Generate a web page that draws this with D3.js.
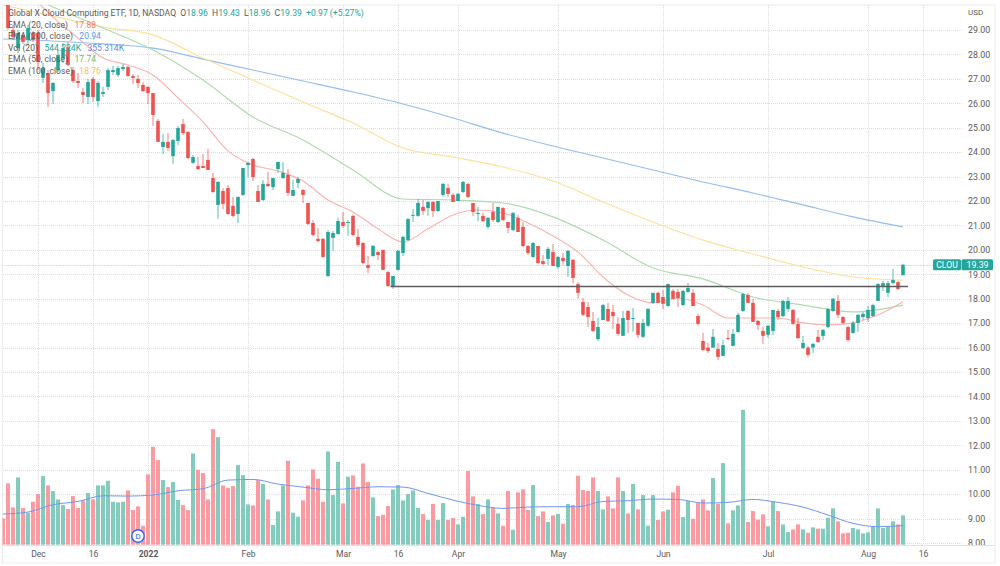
<!DOCTYPE html>
<html>
<head>
<meta charset="utf-8">
<title>CLOU daily</title>
<script src="https://cdn.jsdelivr.net/npm/d3@7"></script>
<style>
  html, body { margin: 0; padding: 0; background: #fff; }
  svg { display: block; }
  text { font-family: Roboto, "Liberation Sans", Arial, sans-serif; font-size: 8.6px; fill: #5a5a5a; }
</style>
</head>
<body>
<svg id="chart" width="1000" height="566"></svg>
<script>
// Daily prices, first session to last
const opens = [31.40,30.43,29.00,28.26,28.80,28.59,28.88,28.88,27.04,27.24,
  26.50,27.36,27.85,28.30,27.36,26.91,26.46,26.26,27.00,26.09,
  26.38,26.67,27.28,27.16,27.40,27.49,27.12,27.00,26.75,26.67,
  26.42,25.28,24.21,24.42,23.84,24.46,25.15,24.82,23.56,23.43,
  23.43,23.68,22.94,21.84,22.41,22.53,21.80,21.47,22.25,23.47,
  23.72,22.41,22.04,22.70,22.57,23.31,22.94,23.07,22.21,22.74,
  22.45,21.92,21.10,20.45,20.45,18.93,20.49,20.65,21.14,21.10,
  21.39,20.53,20.28,19.38,19.75,19.91,20.00,19.09,18.52,19.18,
  19.87,20.40,21.39,21.39,21.76,21.71,21.96,21.59,22.25,22.53,
  22.25,22.00,22.37,22.70,21.92,21.47,21.39,20.94,21.55,21.14,
  21.71,21.14,20.81,21.31,20.94,20.16,19.71,20.16,19.54,19.63,
  19.91,19.30,19.67,19.34,19.59,18.60,17.87,17.66,17.09,16.35,
  17.13,17.58,17.46,16.97,16.48,17.50,17.17,17.01,16.44,16.89,
  17.83,18.24,18.07,17.70,18.32,18.28,17.74,18.28,18.24,17.29,
  16.27,16.00,16.00,15.94,15.66,16.39,16.07,16.64,17.50,18.15,
  17.83,17.09,16.68,16.52,16.68,17.50,17.29,17.58,17.54,16.97,
  15.98,16.00,16.00,16.44,16.48,16.84,17.50,17.91,17.25,16.84,
  16.60,17.01,17.25,17.21,17.29,17.91,18.52,18.24,18.64,18.68,18.96];
const highs = [31.60,30.55,29.21,29.00,28.88,29.21,28.96,29.00,27.65,27.36,
  26.87,28.18,28.47,28.51,27.49,27.24,26.63,27.00,27.08,26.91,
  26.67,27.44,27.53,27.53,27.61,27.53,27.20,27.16,26.87,26.71,
  26.42,25.36,24.74,24.78,24.54,25.07,25.36,24.87,23.88,23.80,
  23.92,24.13,23.15,22.82,22.53,22.65,22.17,22.17,23.35,23.60,
  23.76,22.65,22.86,23.19,22.94,23.60,23.60,23.31,22.86,22.98,
  22.49,21.92,21.22,20.90,20.49,20.81,20.77,21.31,21.55,21.22,
  21.43,20.86,20.32,19.75,20.20,19.96,20.00,19.14,18.93,20.00,
  20.57,21.31,21.67,22.08,22.04,22.00,22.00,22.00,22.74,22.70,
  22.33,22.33,22.82,22.74,21.92,21.76,21.51,21.35,21.92,21.76,
  21.76,21.14,21.55,21.43,21.14,20.20,20.32,20.16,19.79,20.12,
  20.24,19.75,19.87,20.00,19.63,18.68,18.03,17.87,17.46,17.21,
  17.79,17.83,17.74,17.25,17.50,17.54,17.62,17.01,17.17,17.62,
  18.24,18.28,18.36,18.62,18.40,18.40,18.36,18.64,18.40,17.38,
  16.60,16.19,16.76,16.19,16.31,16.72,16.76,17.42,18.24,18.24,
  18.00,17.13,16.84,16.93,17.54,17.58,17.95,18.07,17.58,17.21,
  16.48,16.07,16.19,16.72,16.76,17.62,18.03,18.15,17.29,16.89,
  17.09,17.38,17.46,17.70,17.79,18.64,18.73,18.73,19.22,18.73,19.43];
const lows = [30.60,29.00,28.59,28.06,28.43,28.39,28.51,27.36,26.83,25.85,
  25.97,27.28,27.65,27.53,26.83,26.63,26.01,25.97,26.05,25.85,
  26.26,26.54,27.16,27.08,27.32,27.08,26.79,26.63,26.46,25.97,
  25.07,24.42,23.92,24.05,23.52,24.29,24.70,23.72,23.52,23.27,
  23.35,23.27,22.33,21.26,21.67,21.43,21.35,21.10,22.21,22.98,
  22.82,21.96,22.00,22.57,22.45,23.15,22.90,22.21,22.21,22.53,
  21.92,21.02,20.57,20.32,19.67,18.89,19.96,20.61,20.90,20.57,
  20.57,20.12,19.42,19.05,19.71,19.59,19.18,18.48,18.40,19.14,
  19.75,20.36,21.14,21.35,21.43,21.39,21.35,21.55,22.17,22.17,
  21.96,22.00,22.33,22.12,21.39,21.18,21.14,20.86,21.14,21.10,
  21.18,20.69,20.77,20.73,20.12,19.79,19.67,19.42,19.38,19.38,
  19.34,19.22,19.38,18.89,18.64,18.00,17.29,16.84,16.64,16.27,
  17.13,17.05,16.76,16.48,16.48,16.60,16.64,16.39,16.39,16.84,
  17.79,17.83,17.58,17.68,17.95,17.66,17.70,18.24,17.70,16.89,
  15.86,15.78,15.98,15.49,15.66,16.31,16.07,16.60,17.46,17.83,
  17.05,16.72,16.15,16.39,16.52,17.13,17.25,17.46,16.93,16.35,
  15.94,15.62,15.78,16.19,16.31,16.80,17.46,17.21,16.97,16.23,
  16.56,16.64,17.13,17.05,17.25,17.91,18.32,18.07,18.60,18.36,18.96];
const closes = [30.70,29.08,28.71,28.88,28.51,29.08,28.59,27.69,27.44,26.42,
  26.83,27.98,28.26,27.57,26.91,26.83,26.34,26.87,26.26,26.83,
  26.46,27.36,27.36,27.44,27.49,27.12,27.04,26.83,26.50,26.42,
  25.52,24.42,24.42,24.17,24.50,24.99,24.78,23.76,23.80,23.31,
  23.35,23.27,22.37,22.78,21.88,21.47,21.39,22.17,23.35,23.56,
  22.98,21.96,22.70,22.61,22.94,23.60,23.15,22.33,22.45,22.90,
  22.25,21.06,20.61,20.36,19.71,20.73,20.69,21.18,20.98,21.14,
  20.61,20.20,19.46,19.26,20.16,19.79,19.18,18.52,18.93,19.96,
  20.53,21.26,21.43,21.92,21.59,21.96,21.59,22.00,22.70,22.29,
  21.96,22.29,22.78,22.17,21.55,21.51,21.18,21.31,21.22,21.76,
  21.22,20.90,21.51,20.73,20.16,19.87,20.28,19.46,19.42,20.04,
  19.34,19.71,19.54,19.96,18.85,18.24,17.34,17.25,16.68,16.84,
  17.74,17.09,17.29,16.56,17.21,17.13,17.21,16.52,17.01,17.58,
  18.24,17.83,17.79,18.60,18.00,18.03,18.32,18.44,17.70,16.97,
  15.90,15.86,16.44,15.62,16.10,16.35,16.56,17.34,18.19,17.83,
  17.05,16.93,16.48,16.89,17.54,17.25,17.91,17.91,16.97,16.39,
  16.19,15.70,16.15,16.23,16.72,17.58,18.00,17.34,17.01,16.31,
  17.01,17.34,17.38,17.54,17.74,18.60,18.64,18.64,18.77,18.40,19.39];

// Session volume in thousands of shares
const volumes = [488,1137,692,1248,680,593,797,939,1273,1100,
  995,840,735,661,902,680,828,958,840,1100,
  1100,1187,797,785,797,1007,643,711,352,1304,
  1817,1570,1199,1069,1162,828,735,643,1693,1390,
  1329,840,2144,1996,1100,1057,1088,1477,1292,748,
  729,1199,1125,840,365,618,1100,1557,593,519,
  822,1100,1397,1224,797,1730,921,1539,766,1261,
  1285,1075,1508,1162,878,531,556,717,1026,1106,
  822,939,1007,680,569,457,754,457,773,457,
  494,377,519,1366,896,754,569,840,680,581,
  352,995,278,970,1026,643,1106,531,618,420,
  544,569,389,754,735,1279,1014,995,1248,995,
  655,896,674,1248,995,581,1125,655,921,352,
  921,457,618,649,970,1094,513,810,482,773,
  840,637,1236,760,1514,396,637,729,2503,420,
  624,464,562,340,803,624,377,235,284,377,
  284,222,321,297,297,501,674,433,210,222,
  309,284,210,229,334,674,309,334,433,377,544.224];

// Moving averages, read every tenth session for the slow ones and every fifth for the rest
const slowIndex = d3.range(0, 181, 10);
const fastIndex = d3.range(5, 181, 5);
const volIndex = d3.range(0, 181, 5);
const ema200 = [28.63,28.55,28.43,28.26,27.81,27.36,26.91,26.46,25.97,25.40,24.78,24.25,23.76,23.27,22.78,22.33,21.84,21.35,20.94];
const ema100 = [30.02,29.57,29.12,28.80,27.85,26.95,26.05,25.19,24.17,23.80,23.39,22.82,21.96,21.14,20.40,19.83,19.30,18.89,18.76];
const ema50 = [30.84,29.94,29.08,28.18,26.95,25.44,24.50,23.27,22.08,22.04,21.92,21.35,20.40,19.26,18.81,18.07,17.74,17.46,17.74];
const ema20 = [30.55,29.53,28.67,27.85,27.57,27.16,26.22,25.24,24.05,23.47,23.23,22.82,22.04,21.55,20.86,20.32,20.86,21.43,21.63,21.51,
  21.10,20.57,19.91,18.89,18.15,17.83,18.03,17.74,17.21,17.21,17.21,17.01,16.93,17.01,17.34,17.88];
const volMa = [569,606,742,803,908,902,921,1001,1038,1199,1211,1125,1069,1020,
  1044,1075,1069,952,828,729,674,698,705,705,803,816,847,
  840,773,785,840,785,698,550,396,334,355.314];

// Axis ticks and annotations
const priceTicks = d3.range(8, 30);
const dateTicks = [7, 18, 29, 49, 68, 79, 91, 111, 132, 153, 173, 184];
const dateLabels = ["Dec", "16", "2022", "Feb", "Mar", "16", "Apr", "May", "Jun", "Jul", "Aug", "16"];
const boldLabels = ["2022"];
const supportLevel = 18.5;
const supportFrom = 77.5;
const supportTo = 181;
const dividendIndex = 27;
const lastPrice = 19.39;

const UP = "#26a69a", DOWN = "#ef5350";
const svg = d3.select("#chart");

const x = d3.scaleLinear().domain([0, 180]).range([3, 903]);
const y = d3.scaleLinear().domain([8, 29]).range([543, 30]);
const vol = d3.scaleLinear().domain([0, 2503]).range([544.7, 409.8]);

const frame = { left: 2.5, right: 962, top: 5, bottom: 545, outerRight: 995, outerBottom: 563 };

const defs = svg.append("defs");
defs.append("clipPath").attr("id", "plot").append("rect")
  .attr("x", frame.left).attr("y", frame.top)
  .attr("width", frame.right - frame.left).attr("height", frame.bottom - frame.top);
defs.append("clipPath").attr("id", "scale").append("rect")
  .attr("x", frame.right).attr("y", frame.top)
  .attr("width", 36).attr("height", frame.bottom - frame.top);

// Outer frame and the rule above the date axis
const chrome = svg.append("g").attr("fill", "none").attr("stroke", "#ececec");
chrome.append("rect").attr("x", frame.left).attr("y", frame.top)
  .attr("width", frame.outerRight - frame.left).attr("height", frame.outerBottom - frame.top);
chrome.append("line").attr("x1", frame.left).attr("x2", frame.outerRight)
  .attr("y1", frame.bottom + 0.5).attr("y2", frame.bottom + 0.5).attr("stroke", "#e2e2e2");

// Dotted grid
const grid = svg.append("g").attr("stroke", "#dedede").attr("stroke-dasharray", "1 1").attr("shape-rendering", "crispEdges");
grid.selectAll(".h").data(priceTicks).join("line").attr("class", "h")
  .attr("x1", frame.left).attr("x2", frame.right)
  .attr("y1", d => Math.round(y(d))).attr("y2", d => Math.round(y(d)));
grid.selectAll(".v").data(dateTicks).join("line").attr("class", "v")
  .attr("x1", d => Math.round(x(d))).attr("x2", d => Math.round(x(d)))
  .attr("y1", frame.top).attr("y2", frame.bottom);

const plot = svg.append("g").attr("clip-path", "url(#plot)");

// Volume columns share the candle colouring
plot.append("g").selectAll("rect").data(volumes).join("rect")
  .attr("x", (d, i) => x(i) - 2)
  .attr("width", 4)
  .attr("y", d => vol(d))
  .attr("height", d => vol(0) - vol(d))
  .attr("fill", (d, i) => closes[i] >= opens[i] ? "#82cbbd" : "#fb9aa0");

// Volume moving average
plot.append("path")
  .datum(volMa)
  .attr("fill", "none").attr("stroke", "#6f97f2").attr("stroke-width", 1)
  .attr("d", d3.line().x((d, i) => x(volIndex[i])).y(d => vol(d)).curve(d3.curveMonotoneX));

// Last price guide
plot.append("line")
  .attr("x1", frame.left).attr("x2", frame.right)
  .attr("y1", Math.round(y(lastPrice)) + 0.5).attr("y2", Math.round(y(lastPrice)) + 0.5)
  .attr("stroke", UP).attr("stroke-opacity", 0.55).attr("stroke-dasharray", "1 2");

// Exponential moving averages
const lineFor = (index) => d3.line().x((d, i) => x(index[i])).y(d => y(d)).curve(d3.curveMonotoneX);
const emaSeries = [
  { values: ema200, index: slowIndex, color: "#94bef1" },
  { values: ema100, index: slowIndex, color: "#fde09b" },
  { values: ema50, index: slowIndex, color: "#aedbac" },
  { values: ema20, index: fastIndex, color: "#f9b4af" }
];
plot.append("g").selectAll("path").data(emaSeries).join("path")
  .attr("fill", "none").attr("stroke-width", 1.15)
  .attr("stroke", d => d.color)
  .attr("d", d => lineFor(d.index)(d.values));

// Candles
const candles = plot.append("g").selectAll("g").data(d3.range(opens.length)).join("g");
candles.append("line")
  .attr("x1", i => x(i)).attr("x2", i => x(i))
  .attr("y1", i => y(highs[i])).attr("y2", i => y(lows[i]))
  .attr("stroke", i => closes[i] >= opens[i] ? UP : DOWN)
  .attr("stroke-opacity", 0.75);
candles.append("rect")
  .attr("x", i => x(i) - 1.8).attr("width", 3.6)
  .attr("y", i => y(Math.max(opens[i], closes[i])))
  .attr("height", i => Math.max(1, Math.abs(y(opens[i]) - y(closes[i]))))
  .attr("fill", i => closes[i] >= opens[i] ? UP : DOWN);

// Hand-drawn support level
plot.append("line")
  .attr("x1", x(supportFrom)).attr("x2", x(supportTo))
  .attr("y1", y(supportLevel)).attr("y2", y(supportLevel))
  .attr("stroke", "#5c5c5c").attr("stroke-width", 1.4);

// Dividend marker
const marker = svg.append("g").attr("transform", `translate(${x(dividendIndex)},536)`);
marker.append("circle").attr("r", 6.2).attr("fill", "#fff").attr("stroke", "#2962ff").attr("stroke-width", 1.4);
marker.append("text").attr("text-anchor", "middle").attr("dy", "0.35em")
  .style("font-size", "8px").style("fill", "#2962ff").text("D");

// Price scale
const priceAxis = d3.axisRight(y).tickValues(priceTicks).tickFormat(d3.format(".2f")).tickSize(0).tickPadding(6);
const priceG = svg.append("g").attr("clip-path", "url(#scale)")
  .append("g").attr("transform", `translate(${frame.right},0)`).call(priceAxis);
priceG.select(".domain").remove();
priceG.selectAll("text").style("font-family", "Roboto, sans-serif").style("font-size", "8.8px").style("fill", "#5a5a5a");
svg.append("text").attr("x", 968).attr("y", 15).style("font-size", "8px").text("USD");

// Date scale
const dateAxis = d3.axisBottom(x).tickValues(dateTicks)
  .tickFormat((d, i) => dateLabels[i]).tickSize(0).tickPadding(6);
const dateG = svg.append("g").attr("transform", `translate(0,${frame.bottom})`).call(dateAxis);
dateG.select(".domain").remove();
dateG.selectAll("text")
  .style("font-family", "Roboto, sans-serif").style("font-size", "8.6px").style("fill", "#5a5a5a")
  .style("font-weight", (d, i) => boldLabels.includes(dateLabels[i]) ? "bold" : "normal");

// Last price tag
const tagY = y(lastPrice);
const tag = svg.append("g");
tag.append("rect").attr("x", 933).attr("y", tagY - 5.5).attr("width", 28).attr("height", 11).attr("rx", 1.5).attr("fill", UP);
tag.append("rect").attr("x", 961.5).attr("y", tagY - 5.5).attr("width", 31.5).attr("height", 11).attr("rx", 1.5).attr("fill", UP);
tag.append("text").attr("x", 947).attr("y", tagY).attr("dy", "0.35em").attr("text-anchor", "middle")
  .style("fill", "#fff").style("font-size", "8.6px").text("CLOU");
tag.append("text").attr("x", 977.5).attr("y", tagY).attr("dy", "0.35em").attr("text-anchor", "middle")
  .style("fill", "#fff").style("font-size", "8.8px").text(lastPrice.toFixed(2));

// Legend
const legendRows = [
  { y: 13, parts: [
    ["Global X Cloud Computing ETF, 1D, NASDAQ", "#5a5a5a"], ["  O", "#5a5a5a"], ["18.96", UP], ["  H", "#5a5a5a"], ["19.43", UP],
    ["  L", "#5a5a5a"], ["18.96", UP], ["  C", "#5a5a5a"], ["19.39", UP], ["  +0.97 (+5.27%)", UP]] },
  { y: 25, parts: [["EMA (20, close)   ", "#5a5a5a"], ["17.88", "#f27c78"]] },
  { y: 36, parts: [["EMA (200, close)   ", "#5a5a5a"], ["20.94", "#5b9cf0"]] },
  { y: 48, parts: [["Vol (20)   ", "#5a5a5a"], ["544.224K", UP], ["   ", "#5a5a5a"], ["355.314K", "#5d87ee"]] },
  { y: 59, parts: [["EMA (50, close)   ", "#5a5a5a"], ["17.74", "#73bb72"]] },
  { y: 71, parts: [["EMA (100, close)   ", "#5a5a5a"], ["18.76", "#fbc04c"]] }
];
const legend = svg.append("g");
legendRows.forEach(row => {
  const line = legend.append("text").attr("x", 8).attr("y", row.y).attr("dy", "0.35em")
    .attr("xml:space", "preserve").style("white-space", "pre").style("font-size", "8.6px");
  row.parts.forEach(([t, c]) => line.append("tspan").style("fill", c).text(t));
});
</script>
</body>
</html>
